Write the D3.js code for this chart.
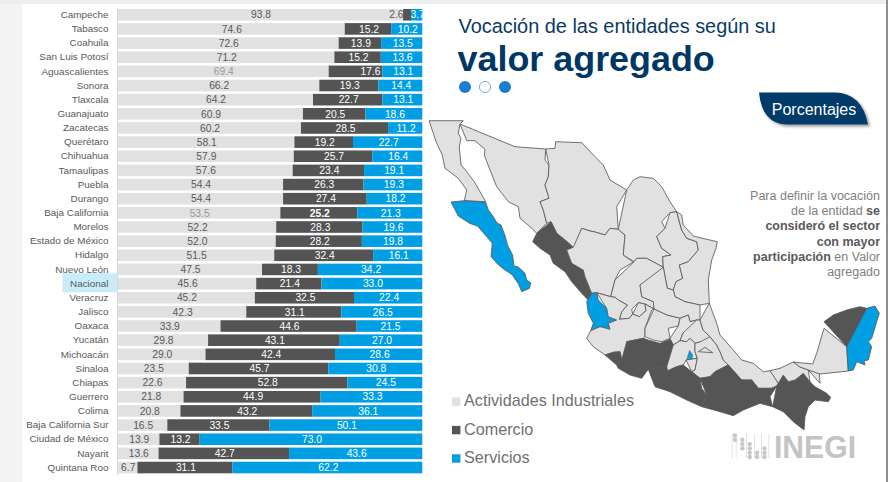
<!DOCTYPE html>
<html>
<head>
<meta charset="utf-8">
<script src="https://cdn.jsdelivr.net/npm/d3@7"></script>
<style>
  html, body { margin: 0; padding: 0; background: #fff; overflow: hidden; }
  svg { display: block; font-family: "Liberation Sans", Arial, sans-serif; }
</style>
</head>
<body>
<svg class="chart" width="888" height="482"></svg>
<script>
// bar chart values
var states = ["Campeche", "Tabasco", "Coahuila", "San Luis Potosí", "Aguascalientes", "Sonora", "Tlaxcala",
  "Guanajuato", "Zacatecas", "Querétaro", "Chihuahua", "Tamaulipas", "Puebla", "Durango", "Baja California",
  "Morelos", "Estado de México", "Hidalgo", "Nuevo León", "Nacional", "Veracruz", "Jalisco", "Oaxaca", "Yucatán",
  "Michoacán", "Sinaloa", "Chiapas", "Guerrero", "Colima", "Baja California Sur", "Ciudad de México", "Nayarit",
  "Quintana Roo"];
var industria = [93.8, 74.6, 72.6, 71.2, 69.4, 66.2, 64.2, 60.9, 60.2, 58.1, 57.9, 57.6, 54.4, 54.4, 53.5, 52.2, 52.0,
  51.5, 47.5, 45.6, 45.2, 42.3, 33.9, 29.8, 29.0, 23.5, 22.6, 21.8, 20.8, 16.5, 13.9, 13.6, 6.7];
var comercio = [2.6, 15.2, 13.9, 15.2, 17.6, 19.3, 22.7, 20.5, 28.5, 19.2, 25.7, 23.4, 26.3, 27.4, 25.2, 28.3, 28.2,
  32.4, 18.3, 21.4, 32.5, 31.1, 44.6, 43.1, 42.4, 45.7, 52.8, 44.9, 43.2, 33.5, 13.2, 42.7, 31.1];
var servicios = [3.7, 10.2, 13.5, 13.6, 13.1, 14.4, 13.1, 18.6, 11.2, 22.7, 16.4, 19.1, 19.3, 18.2, 21.3, 19.6, 19.8,
  16.1, 34.2, 33.0, 22.4, 26.5, 21.5, 27.0, 28.6, 30.8, 24.5, 33.3, 36.1, 50.1, 73.0, 43.6, 62.2];

var sectors = ["Actividades Industriales", "Comercio", "Servicios"];
var sectorColors = ["#e1e1e1", "#545454", "#009fe3"];

var noteLines = [
  [["Para definir la vocación", false]],
  [["de la entidad ", false], ["se", true]],
  [["consideró el sector", true]],
  [["con mayor", true]],
  [["participación", true], [" en Valor", false]],
  [["agregado", false]]
];

// state outlines, one ring per entry
var outlineNames = ["Baja California", "Baja California Sur", "Sonora", "Chihuahua", "Sinaloa", "Durango", "Coahuila",
  "Nuevo León", "Tamaulipas", "Zacatecas", "Aguascalientes", "San Luis Potosí", "Nayarit", "Jalisco", "Colima",
  "Guanajuato", "Querétaro", "Michoacán", "Hidalgo", "Estado de México", "Morelos", "Puebla",
  "Tlaxcala", "Guerrero", "Veracruz", "Oaxaca", "Chiapas", "Tabasco", "Tabasco", "Campeche", "Yucatán", "Quintana Roo",
  "Ciudad de México"];
var outlineRings = [
  [[429,120.7],[463.3,120.7],[460,124],[458.3,133.3],[461,138.3],[459.3,146.7],[461,165],[466.7,171.7],[474.3,181.7],[480,191.7],[485.7,201.7],[464.3,200.7],[466.7,190],[458.3,178.3],[445,168.3],[442.3,155],[436.7,143.3],[433.3,130]],
  [[451,202],[464.3,200.7],[485.7,202.3],[488.3,210],[493.3,216.7],[497,223],[501,225],[504.8,235],[507.5,245],[512.5,255],[514,266],[518.3,267],[525,273.3],[526.7,280],[530.7,282.7],[529.5,288.3],[521.7,291.7],[518.5,284],[512,274.5],[503.5,269],[497.5,264],[491,256.5],[492.3,243.3],[487,237],[477.5,226],[470,223.5],[458.3,216],[456.7,208.3]],
  [[460,124],[515,146.7],[545.7,149],[545,160],[549,165],[548.3,176.7],[545,185],[549,198.3],[540,201.7],[543.3,210],[546.7,223.3],[536.7,233.3],[530,226.7],[520,218.3],[518.3,206.7],[508.3,201.7],[496.7,186.7],[490,170],[484.3,155],[485,149.3],[475,140.7],[466.7,140.7],[461,134]],
  [[545.7,149],[555,148.3],[555.7,141.7],[581.7,142.7],[595,156.7],[603.3,165],[610,180],[626.7,190],[616.7,206.7],[618.3,229.3],[610,228.3],[605,235],[595,232],[590,231],[581.7,228.3],[575,246.7],[573.3,247.3],[565,240],[556.7,233.3],[551,221.7],[546.7,223.3],[543.3,210],[540,201.7],[549,198.3],[545,185],[548.3,176.7],[549,165],[545,160]],
  [[551,221.7],[556.7,233.3],[565,240],[573.3,247.3],[566.7,250],[571.7,263.3],[583.3,270],[585,276.7],[591.7,293.3],[588.3,300],[581.7,293.3],[571.7,281.7],[565,271.7],[553.3,263.3],[550,255],[540,248.3],[532.7,241.7],[536.7,233.3],[546.7,223.3]],
  [[581.7,228.3],[590,231],[595,232],[605,235],[610,228.3],[618.3,229.3],[625,235],[623.3,255],[632.7,261.7],[634,261.7],[620,270],[615,280],[610.7,296.7],[596.7,292.7],[591.7,293.3],[585,276.7],[583.3,270],[571.7,263.3],[566.7,250],[573.3,247.3],[575,246.7]],
  [[626.7,190],[633.3,180],[640,176.7],[653.3,178.3],[661.7,186.7],[670,201.7],[676.7,211.7],[670,212.7],[661.7,221.7],[665,228.3],[656.7,236.7],[661.7,248.3],[671,255],[662.7,256.7],[663.3,267.3],[646.7,258.3],[636.7,258.3],[634,261.7],[623.3,255],[625,235],[618.3,229.3],[616.7,206.7]],
  [[670,212.7],[676.7,211.7],[678.3,218.3],[681.7,230],[686.7,238.3],[696.7,241.7],[698.3,250],[688.3,261.7],[679.3,265],[682.7,278.3],[676,281.7],[673.3,290],[667.3,288.3],[663.3,267.3],[662.7,256.7],[671,255],[661.7,248.3],[656.7,236.7],[665,228.3],[661.7,221.7]],
  [[676.7,211.7],[681.7,215],[683.3,225],[693.3,236],[706.7,239.3],[717.3,241.7],[716,248.3],[711.7,260],[708.3,280],[709.3,303.3],[700,305],[685,301.7],[675,296.7],[673.3,290],[676,281.7],[682.7,278.3],[679.3,265],[688.3,261.7],[698.3,250],[696.7,241.7],[686.7,238.3],[681.7,230],[678.3,218.3]],
  [[634,261.7],[636.7,258.3],[646.7,258.3],[663.3,267.3],[648.3,281.7],[640,285],[641.7,296.7],[653.3,301.7],[654,309],[645,304],[638.3,302.7],[631.7,309.3],[632.7,314],[629.3,318.3],[619.3,319.3],[621.7,311.7],[627.3,305],[618.3,300],[615,297.3],[610.7,296.7],[615,280],[620,270]],
  [[638.3,302.7],[645,304],[646,310.7],[639.3,316.7],[632.7,314],[631.7,309.3]],
  [[663.3,267.3],[667.3,288.3],[673.3,290],[675,296.7],[685,301.7],[700,305],[700,320],[696.7,320],[690,321.7],[688.3,315],[680,318.3],[666.7,315],[654,309],[653.3,301.7],[641.7,296.7],[640,285],[648.3,281.7]],
  [[591.7,293.3],[596.7,292.7],[598.3,300],[606.7,308.3],[608.3,316.7],[616.7,320],[608.3,323.3],[610,329.3],[600,326.7],[590.7,330.7],[593.3,323.3],[588.3,313.3],[586.7,301.7],[590.7,300]],
  [[596.7,292.7],[610.7,296.7],[615,297.3],[618.3,300],[627.3,305],[621.7,311.7],[619.3,319.3],[629.3,318.3],[632.7,314],[639.3,316.7],[646,310.7],[645,304],[654,309],[651.7,310],[645,328.3],[645,336.7],[643.3,338.3],[626.7,341.7],[633.3,353.3],[621.7,360],[620,351.7],[613.3,352.3],[605,355],[593.3,346.7],[586.7,338.3],[590.7,330.7],[600,326.7],[610,329.3],[608.3,323.3],[616.7,320],[608.3,316.7],[606.7,308.3],[598.3,300]],
  [[605,355],[613.3,352.3],[620,351.7],[621.7,360],[616.7,365],[611.7,360]],
  [[654,309],[666.7,315],[680,318.3],[678.3,326],[668.3,328.3],[670,338.3],[661.7,341.7],[653.3,340],[645,336.7],[645,328.3],[651.7,310]],
  [[678.3,326],[680,318.3],[688.3,315],[690,321.7],[696.7,320],[692,328],[683,333],[680,340.7],[673.3,345],[670,338.3],[668.3,328.3]],
  [[626.7,341.7],[643.3,338.3],[648.3,340],[660,343.3],[670,339.3],[673.3,345],[671.7,355],[666.7,366.7],[648.3,369.3],[641.7,378.3],[630,375],[618.3,368.3],[616.7,365],[621.7,360],[633.3,353.3]],
  [[696.7,320],[700,320],[703,330],[710,336.7],[707,343],[700,342],[695,343.3],[690,338.3],[686.7,341.7],[680,340.7],[683,333],[692,328]],
  [[673.3,345],[680,340.7],[686.7,341.7],[690,338.3],[695,343.3],[695,351.7],[697.3,358.3],[686,360],[683.3,365],[676.7,366.7],[667.3,371],[666.7,366.7],[671.7,355]],
  [[686,360],[697.3,358.3],[695,370],[691.7,371.7],[683.3,365]],
  [[710,336.7],[716.7,345],[720,351.7],[723.3,360],[728.3,365],[715,371.7],[710,376.7],[700,378.3],[691.7,371.7],[695,370],[697.3,358.3],[695,351.7],[695,343.3],[700,342],[707,343]],
  [[698.3,351.7],[705,347.3],[712.7,352.7],[706.7,357.3]],
  [[648.3,369.3],[666.7,366.7],[667.3,371],[676.7,366.7],[683.3,365],[691.7,371.7],[700,378.3],[701.7,388.3],[706.7,395],[701.7,406.7],[686.7,400],[670,391.7],[655,386.7],[641.7,378.3]],
  [[709.3,303.3],[716.7,323.3],[720,335],[733.3,350],[741.7,360],[753.3,363.3],[763.3,371.7],[770,370.7],[773.3,375],[778.3,383.3],[776.7,386],[771.7,388.3],[758.3,388.3],[751.7,380],[741.7,380],[728.3,365],[723.3,360],[720,351.7],[716.7,345],[710,336.7],[703,330],[700,320],[700,305]],
  [[700,378.3],[710,376.7],[715,371.7],[728.3,365],[741.7,380],[751.7,380],[758.3,388.3],[771.7,388.3],[776.7,386],[770,396.7],[772.7,406.7],[760,403.3],[743.3,410],[733.3,415.7],[720,411.7],[701.7,406.7],[706.7,395],[701.7,388.3]],
  [[776.7,386],[783.3,375],[788.3,381.7],[795,380],[803.3,373.3],[810,381.7],[815,386.7],[826.7,393.3],[830.7,397.3],[828.3,401.7],[815,400],[808.3,406.7],[805,416.7],[804,430],[793.3,421.7],[783.3,411.7],[772.7,406.7],[770,396.7]],
  [[770,370.7],[780,368.3],[793.3,362],[800,367],[808.3,370],[810,381.7],[803.3,373.3],[795,380],[788.3,381.7],[783.3,375],[778.3,383.3],[773.3,375]],
  [[808.3,370],[819.3,372.7],[820,383.3],[810,381.7]],
  [[824,328.3],[846.7,346.7],[848.3,371],[820,374],[808.3,370],[800,367],[793.3,362],[812.7,364],[816.7,353.3],[822.7,343.3]],
  [[824,321.7],[833.3,315],[846.7,310],[860,306.7],[866.7,308.3],[867.7,325],[846.7,346.7],[824,328.3]],
  [[866.7,308.3],[875,306],[879.3,313.3],[876.7,321.7],[871.7,338.3],[868.3,341.7],[871.7,346.7],[868.3,360],[864,360.7],[865,365],[856.7,361.7],[853.3,370],[848.3,371],[846.7,346.7],[867.7,325]],
  [[689.5,350.5],[692.7,355],[692,358.8],[687,358.8],[686.8,355.5]]
];

// INEGI logo dots, one list of rows per column
var logoColumnRows = [[0, 1], [1, 2, 3], [2, 3, 4, 5], [4, 5], [3, 4, 5]];
var logoTicks = [731.7, 735.7, 746.2, 754, 761, 768.5];

var svg = d3.select(".chart");

// page frame
svg.append("rect").attr("width", 888).attr("height", 482).attr("fill", "#fff");
svg.append("rect").attr("width", 22).attr("height", 482).attr("fill", "#f3f3f3");
svg.append("rect").attr("width", 888).attr("height", 4).attr("fill", "#eeeeee");
svg.append("rect").attr("x", 886).attr("width", 2).attr("height", 482).attr("fill", "#8f8f8f");

var defs = svg.append("defs");
defs.append("clipPath").attr("id", "barClip").append("rect")
  .attr("x", 117).attr("y", 0).attr("width", 305.3).attr("height", 482);
var shadow = defs.append("filter").attr("id", "badgeShadow")
  .attr("x", "-10%").attr("y", "-20%").attr("width", "125%").attr("height", "150%");
shadow.append("feDropShadow").attr("dx", 2).attr("dy", 2).attr("stdDeviation", 1.5)
  .attr("flood-color", "#000").attr("flood-opacity", 0.4);
defs.append("filter").attr("id", "soft").append("feGaussianBlur").attr("stdDeviation", 0.3);

// stacked bars
var x = d3.scaleLinear().domain([0, 1]).range([117, 422.3]);
var y = d3.scaleBand().domain(states).range([7.7, 474.6]).paddingInner(0.18).paddingOuter(0.09);
var color = d3.scaleOrdinal().domain(sectors).range(sectorColors);

var rows = states.map(function(s, i) {
  var r = { name: s };
  r[sectors[0]] = industria[i];
  r[sectors[1]] = comercio[i];
  r[sectors[2]] = servicios[i];
  return r;
});
var series = d3.stack().keys(sectors).offset(d3.stackOffsetExpand)(rows);

// Nacional highlight goes under the axis labels
svg.append("rect")
  .attr("x", 62.5).attr("y", y("Nacional") + y.bandwidth() / 2 - 10.4)
  .attr("width", x(0) - 62.5).attr("height", 19)
  .attr("fill", "#c8ecfa");

var layers = svg.selectAll("g.layer").data(series).enter().append("g")
  .attr("class", "layer")
  .attr("fill", function(d) { return color(d.key); });

layers.selectAll("rect").data(function(d) { return d; }).enter().append("rect")
  .attr("x", function(d) { return x(d[0]); })
  .attr("y", function(d) { return y(d.data.name); })
  .attr("width", function(d) { return x(d[1]) - x(d[0]); })
  .attr("height", y.bandwidth());

var yAxis = svg.append("g")
  .attr("transform", "translate(" + x(0) + ",0)")
  .call(d3.axisLeft(y).tickSize(0).tickPadding(8.5));
yAxis.select(".domain").attr("stroke", "#d9d9d9");
yAxis.selectAll("text")
  .attr("fill", "#595959")
  .style("font-size", "9.9px")
  .style("font-family", "'Liberation Sans', Arial, sans-serif");

// a few labels sit off the middle of their segment in the original
var labelShift = { "Campeche|Comercio": -11.6, "Aguascalientes|Comercio": 14 };
var paleLabels = ["Aguascalientes", "Baja California"];

var labels = svg.append("g").attr("clip-path", "url(#barClip)");
series.forEach(function(s, k) {
  labels.selectAll("text.s" + k).data(s).enter().append("text")
    .attr("class", "s" + k)
    .attr("x", function(d) {
      return x((d[0] + d[1]) / 2) + 1 + (labelShift[d.data.name + "|" + s.key] || 0);
    })
    .attr("y", function(d) { return y(d.data.name) + y.bandwidth() / 2 + 3.7; })
    .attr("text-anchor", "middle")
    .style("font-size", "10.3px")
    .attr("font-weight", function(d) {
      return d.data.name == "Baja California" && k == 1 ? "bold" : "normal";
    })
    .attr("fill", function(d) {
      if (k == 0) return paleLabels.indexOf(d.data.name) >= 0 ? "#9a9a9a" : "#595959";
      if (d.data.name == "Campeche" && k == 1) return "#595959";
      return "#fff";
    })
    .text(function(d) { return d.data[s.key].toFixed(1); });
});

// map: colour of each state is its largest sector
function vocation(name) {
  var i = states.indexOf(name);
  var vals = [industria[i], comercio[i], servicios[i]];
  return sectors[d3.greatestIndex(vals)];
}
var mapFeatures = outlineRings.map(function(ring, i) {
  return { type: "Feature", properties: { name: outlineNames[i] }, geometry: { type: "Polygon", coordinates: [ring] } };
});
var projection = d3.geoIdentity().fitExtent([[429, 120.7], [879.3, 430]], { type: "FeatureCollection", features: mapFeatures });
var mapPath = d3.geoPath(projection);

svg.append("g").attr("filter", "url(#soft)").selectAll("path").data(mapFeatures).enter().append("path")
  .attr("d", mapPath)
  .attr("fill", function(d) { return color(vocation(d.properties.name)); })
  .attr("stroke", "#5a5a5a")
  .attr("stroke-width", function(d) { return d.properties.name == "Ciudad de México" ? 0.5 : 0.85; })
  .attr("stroke-linejoin", "round");

// title
svg.append("text").attr("x", 458.5).attr("y", 33)
  .attr("fill", "#0b3a66").style("font-size", "19.9px")
  .text("Vocación de las entidades según su");
svg.append("text").attr("x", 457.5).attr("y", 71)
  .attr("fill", "#003764").attr("font-weight", "bold").style("font-size", "35.9px")
  .text("valor agregado");

var dotStates = [true, false, true];
svg.append("g").selectAll("circle").data(dotStates).enter().append("circle")
  .attr("cx", function(d, i) { return 465 + i * 20; })
  .attr("cy", 87)
  .attr("r", function(d) { return d ? 6 : 5.6; })
  .attr("fill", function(d) { return d ? "#1a7fd0" : "#fff"; })
  .attr("stroke", function(d) { return d ? "none" : "#6fb0e6"; });

// badge
svg.append("path")
  .attr("d", "M759,92.5H835Q862,93 868,124.5H787Q762,124 759,92.5Z")
  .attr("fill", "#003a6b")
  .attr("filter", "url(#badgeShadow)");
svg.append("text").attr("x", 814).attr("y", 114.5)
  .attr("text-anchor", "middle").attr("fill", "#fff").style("font-size", "16px")
  .text("Porcentajes");

// note
var note = svg.append("g").attr("text-anchor", "end").style("font-size", "12.5px");
noteLines.forEach(function(parts, i) {
  var t = note.append("text").attr("x", 880).attr("y", 199.7 + i * 15.3);
  parts.forEach(function(p) {
    t.append("tspan")
      .attr("font-weight", p[1] ? "bold" : "normal")
      .attr("fill", p[1] ? "#595959" : "#808080")
      .text(p[0]);
  });
});

// legend
var legend = svg.append("g").selectAll("g").data(sectors).enter().append("g")
  .attr("transform", function(d, i) { return "translate(452," + (397.5 + i * 28.4) + ")"; });
legend.append("rect").attr("width", 8.4).attr("height", 8.4)
  .attr("fill", function(d) { return color(d); });
legend.append("text").attr("x", 12).attr("y", 8.6)
  .attr("fill", "#707070").style("font-size", "16.2px")
  .text(function(d) { return d; });

// INEGI logo
var logo = svg.append("g").attr("fill", "#c8c8c8");
logo.selectAll("rect").data(logoTicks).enter().append("rect")
  .attr("x", function(d) { return d; }).attr("y", 434)
  .attr("width", 0.8).attr("height", 24).attr("fill", "#dddddd");
var logoX = d3.scalePoint().domain(d3.range(logoColumnRows.length)).range([735, 764.5]);
var logoY = d3.scaleLinear().domain([0, 5]).range([435.5, 457]);
logoColumnRows.forEach(function(col, c) {
  logo.selectAll("circle.c" + c).data(col).enter().append("circle")
    .attr("class", "c" + c)
    .attr("cx", logoX(c))
    .attr("cy", function(r) { return logoY(r); })
    .attr("r", 2.2);
});
logo.append("text").attr("x", 774).attr("y", 458)
  .attr("font-weight", "bold").attr("fill", "#c4c4c4").style("font-size", "32px")
  .attr("textLength", 82).attr("lengthAdjust", "spacingAndGlyphs")
  .text("INEGI");
</script>
</body>
</html>
